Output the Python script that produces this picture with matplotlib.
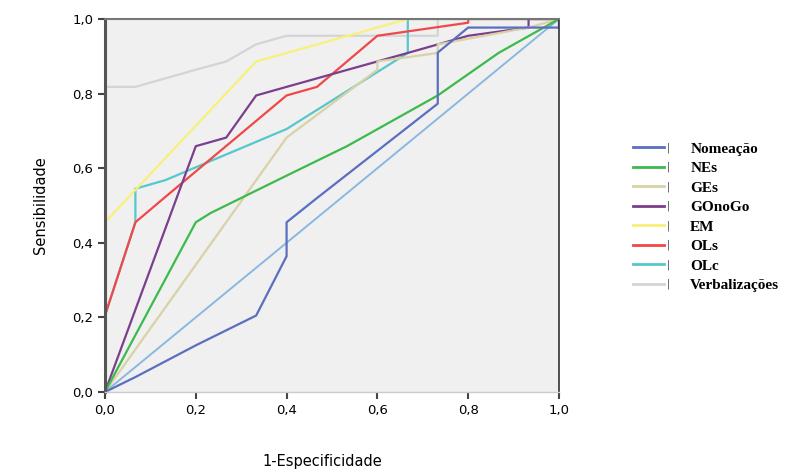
import matplotlib.pyplot as plt
from matplotlib.ticker import FuncFormatter

# ROC curves (1-Especificidade, Sensibilidade)
nomeacao_x = [0, 0.067, 0.2, 0.333, 0.4, 0.4, 0.467, 0.733, 0.733, 0.8, 1.0, 1.0]
nomeacao_y = [0, 0.04, 0.125, 0.205, 0.364, 0.455, 0.52, 0.773, 0.91, 0.977, 0.977, 1.0]

nes_x = [0, 0.2, 0.233, 0.4, 0.533, 0.733, 0.867, 1.0]
nes_y = [0, 0.455, 0.48, 0.58, 0.659, 0.795, 0.909, 1.0]

ges_x = [0, 0.4, 0.6, 0.6, 0.733, 0.733, 0.933, 1.0]
ges_y = [0, 0.682, 0.864, 0.886, 0.909, 0.932, 0.977, 1.0]

gonogo_x = [0, 0.2, 0.267, 0.333, 0.4, 0.667, 0.8, 0.933, 0.933, 1.0]
gonogo_y = [0, 0.659, 0.682, 0.795, 0.818, 0.909, 0.955, 0.977, 1.0, 1.0]

em_x = [0, 0, 0.333, 0.667, 1.0]
em_y = [0, 0.455, 0.886, 1.0, 1.0]

ols_x = [0, 0, 0.067, 0.133, 0.4, 0.467, 0.6, 0.8, 0.8, 1.0]
ols_y = [0, 0.205, 0.455, 0.523, 0.795, 0.818, 0.955, 0.99, 1.0, 1.0]

olc_x = [0, 0, 0.067, 0.067, 0.133, 0.4, 0.667, 0.667, 1.0]
olc_y = [0, 0.205, 0.455, 0.545, 0.568, 0.705, 0.909, 1.0, 1.0]

verb_x = [0, 0, 0.067, 0.2, 0.267, 0.333, 0.4, 0.733, 0.733, 1.0]
verb_y = [0, 0.818, 0.818, 0.864, 0.886, 0.932, 0.955, 0.955, 1.0, 1.0]

ref_x = [0, 1]
ref_y = [0, 1]

fig = plt.figure(figsize=(7.99, 4.70), dpi=100)
ax = fig.add_axes([0.1314, 0.166, 0.5682, 0.7936])
ax.set_facecolor('#f0f0f0')

ax.plot(ref_x, ref_y, color='#8ab8e0', lw=1.4, label='_nolegend_')
curves = [
    ('Verbalizações', verb_x, verb_y, '#d4d4d4'),
    ('OLc', olc_x, olc_y, '#55c8cc'),
    ('OLs', ols_x, ols_y, '#f04848'),
    ('EM', em_x, em_y, '#f7f17a'),
    ('GOnoGo', gonogo_x, gonogo_y, '#7b3f8c'),
    ('GEs', ges_x, ges_y, '#d8d2a6'),
    ('NEs', nes_x, nes_y, '#3cba4c'),
    ('Nomeação', nomeacao_x, nomeacao_y, '#5a6fbf'),
]
handles = {}
for name, x, y, c in curves:
    line, = ax.plot(x, y, color=c, lw=1.6)
    handles[name] = line

order = ['Nomeação', 'NEs', 'GEs', 'GOnoGo', 'EM', 'OLs', 'OLc', 'Verbalizações']
leg = fig.legend([handles[n] for n in order], order,
                 loc='upper left', bbox_to_anchor=(0.775, 0.727),
                 frameon=False, handlelength=2.0, handletextpad=1.75,
                 labelspacing=0.38,
                 prop={'family': 'Liberation Serif', 'weight': 'bold', 'size': 11})
for l in leg.get_lines():
    l.set_linewidth(2.0)

ax.set_xlim(0, 1)
ax.set_ylim(0, 1)
ticks = [0, 0.2, 0.4, 0.6, 0.8, 1.0]
ax.set_xticks(ticks)
ax.set_yticks(ticks)
fmt = FuncFormatter(lambda v, p: ('%.1f' % v).replace('.', ','))
ax.xaxis.set_major_formatter(fmt)
ax.yaxis.set_major_formatter(fmt)
ax.tick_params(axis='both', labelsize=9.5, color='#444444', length=5, width=1.5)
ax.tick_params(axis='x', pad=4)

ax.spines['left'].set_color('#555555')
ax.spines['left'].set_linewidth(2.2)
ax.spines['bottom'].set_color('#cccccc')
ax.spines['bottom'].set_linewidth(1.0)
ax.spines['top'].set_color('#777777')
ax.spines['top'].set_linewidth(1.5)
ax.spines['right'].set_color('#333333')
ax.spines['right'].set_linewidth(1.2)

fig.text(0.051, 0.563, 'Sensibilidade', rotation=90, ha='center', va='center', fontsize=10.5)
fig.text(0.403, 0.018, '1-Especificidade', ha='center', va='center', fontsize=10.5)

# small separator marks between legend line and text, as in the original
fig.canvas.draw()
inv = fig.transFigure.inverted()
for l in leg.get_lines():
    bb = l.get_window_extent()
    x1, yc = inv.transform((bb.x1 + 5, (bb.y0 + bb.y1) / 2))
    fig.text(x1, yc, '|', fontsize=7, color='#444444', ha='center', va='center')

plt.savefig('out.png', dpi=100)
